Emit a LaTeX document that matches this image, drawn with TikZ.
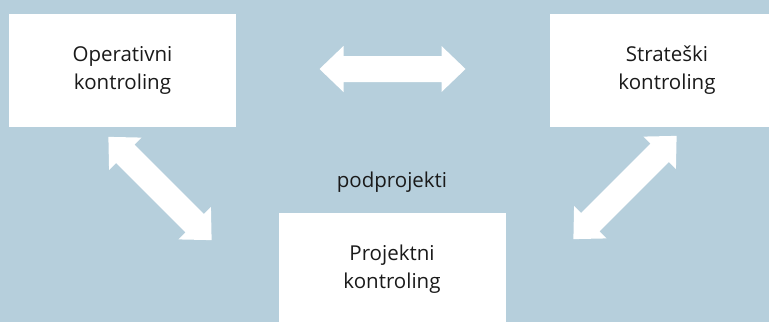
\documentclass[tikz,border=0pt]{standalone}
\usepackage{fontspec}
\setmainfont{Open Sans}
\definecolor{bg}{HTML}{B6CFDC}
\definecolor{txt}{HTML}{1A1A1A}
\newcommand\dblarrowshape[2]{%
  \fill[white, shift={(#1)}, rotate=#2]
    (-73,0) -- (-49,-23) -- (-49,-13) -- (49,-13) -- (49,-23) -- (73,0)
    -- (49,23) -- (49,13) -- (-49,13) -- (-49,23) -- cycle;}
\begin{document}
\begin{tikzpicture}[x=1pt,y=-1pt,
  box/.style={fill=white, minimum width=227pt, minimum height=113pt, inner sep=0pt,
    align=center, text=txt, font=\fontsize{20.5}{28}\selectfont},
  lbl/.style={text=txt, inner sep=0pt, font=\fontsize{20.5}{28}\selectfont}]
\fill[bg] (0,0) rectangle (769,322);
\useasboundingbox (0,0) rectangle (769,322);
\node[box] (op) at (122.5,70) {Operativni\\kontroling};
\node[box, minimum width=234pt] (st) at (667,70) {Strateški\\kontroling};
\node[box] (pr) at (392,269) {Projektni\\kontroling};
\node[lbl] (pp) at (392,182) {podprojekti};
\coordinate (ah) at (392.5,69);
\coordinate (al) at (160,188.5);
\coordinate (ar) at (625,187.5);
\dblarrowshape{ah}{0}
\dblarrowshape{al}{-45}
\dblarrowshape{ar}{45}
\end{tikzpicture}
\end{document}
